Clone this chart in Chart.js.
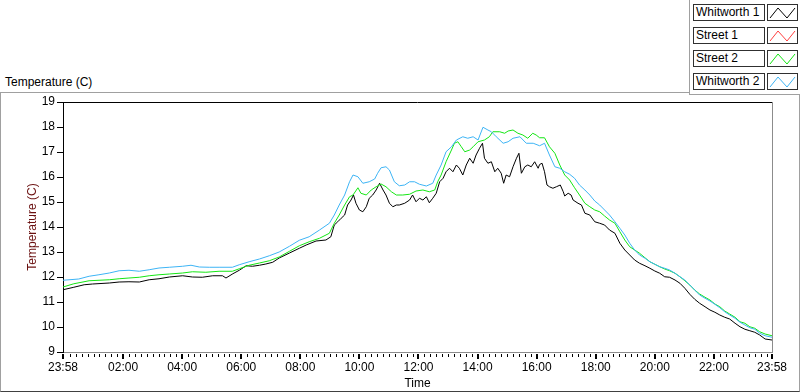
<!DOCTYPE html>
<html>
<head>
<meta charset="utf-8">
<title>Temperature</title>
<script src="https://cdn.jsdelivr.net/npm/chart.js@4.4.0/dist/chart.umd.min.js"></script>
<style>
  html, body { margin: 0; padding: 0; background: #fff; }
  #wrap { position: relative; width: 800px; height: 392px; overflow: hidden;
          font-family: "Liberation Sans", Arial, sans-serif; font-size: 12px; color: #000; }
  #frame { position: absolute; left: 0; top: 92px; width: 798px; height: 298px;
           border: 1px solid #a0a0a0; border-bottom-color: #404040; }
  #topLabel { position: absolute; left: 5px; top: 74px; line-height: 16px; }
  #legend { position: absolute; left: 689px; top: -1px; width: 110px; height: 95px;
            background: #fff; border-left: 1px solid #a0a0a0; border-bottom: 1px solid #a0a0a0; }
  .item { position: absolute; left: 3px; height: 16px; }
  .name { position: absolute; left: 0; top: 0; width: 68px; height: 15px; padding-left: 2px;
          border: 1px solid #303030; line-height: 15px; white-space: nowrap; background: #fff; }
  .icon { position: absolute; left: 74px; top: 0; width: 29px; height: 15px; border: 1px solid #303030; }
  #chart { position: absolute; left: 0; top: 0; }
</style>
</head>
<body>
<div id="wrap">
  <div id="frame"></div>
  <div id="topLabel">Temperature (C)</div>
  <div id="legend"></div>
  <canvas id="chart" width="800" height="392"></canvas>
</div>
<script>
// readings as [minutes after midnight, degrees C]
const whitworth1 = [
  [-2, 11.49], [20, 11.59], [41, 11.69], [58, 11.72], [92, 11.76], [112, 11.80], [132, 11.81],
  [153, 11.80], [173, 11.89], [193, 11.93], [214, 12.00], [241, 12.05], [261, 12.00], [281, 11.99],
  [302, 12.05], [322, 12.05], [329, 11.96], [343, 12.13], [356, 12.27], [370, 12.45], [383, 12.43],
  [397, 12.47], [410, 12.52], [424, 12.59], [437, 12.76], [458, 12.96], [478, 13.15], [492, 13.28],
  [512, 13.44], [532, 13.48], [542, 13.61], [549, 14.08], [556, 14.21], [563, 14.35], [570, 14.48],
  [576, 14.88], [583, 15.08], [588, 15.28], [593, 14.95], [600, 14.68], [607, 14.61], [614, 14.81],
  [620, 15.15], [627, 15.28], [634, 15.48], [641, 15.75], [648, 15.48], [654, 15.28], [661, 14.95],
  [668, 14.81], [675, 14.88], [681, 14.88], [692, 14.95], [702, 15.08], [708, 15.28], [715, 15.01],
  [722, 15.15], [729, 15.08], [736, 15.21], [742, 14.97], [749, 15.15], [756, 15.35], [763, 15.81],
  [770, 15.95], [776, 16.21], [783, 16.35], [790, 16.21], [797, 16.48], [803, 16.35], [810, 16.08],
  [817, 16.48], [824, 16.75], [831, 16.55], [837, 16.88], [844, 17.15], [850, 17.35], [854, 16.75],
  [861, 16.55], [868, 16.61], [875, 16.21], [881, 16.35], [888, 16.15], [893, 15.75], [898, 16.08],
  [905, 16.01], [912, 16.41], [919, 16.75], [924, 16.95], [929, 16.15], [936, 16.41], [942, 16.48],
  [949, 16.41], [956, 16.61], [963, 16.35], [966, 16.50], [971, 16.55], [976, 16.21], [981, 15.68],
  [986, 15.61], [993, 15.55], [1000, 15.61], [1008, 15.68], [1014, 15.41], [1017, 15.24], [1024, 15.35],
  [1030, 15.28], [1034, 15.08], [1044, 14.95], [1051, 14.88], [1058, 14.55], [1068, 14.48], [1078, 14.21],
  [1088, 14.15], [1098, 14.08], [1108, 13.88], [1119, 13.75], [1129, 13.35], [1139, 13.08], [1149, 12.88],
  [1159, 12.68], [1169, 12.55], [1180, 12.45], [1190, 12.35], [1200, 12.24], [1210, 12.15], [1220, 12.01],
  [1230, 11.99], [1241, 11.88], [1251, 11.75], [1261, 11.55], [1271, 11.31], [1281, 11.11], [1291, 10.95],
  [1302, 10.81], [1312, 10.68], [1322, 10.59], [1332, 10.48], [1342, 10.39], [1352, 10.32], [1363, 10.15],
  [1373, 10.01], [1383, 9.91], [1393, 9.85], [1403, 9.79], [1413, 9.68], [1424, 9.52], [1438, 9.48]
];

// nothing from this sensor shows on the plot
const street1 = [];

const street2 = [
  [-2, 11.60], [20, 11.73], [51, 11.85], [92, 11.89], [112, 11.93], [132, 11.96], [153, 11.99],
  [173, 12.05], [193, 12.09], [214, 12.12], [241, 12.16], [261, 12.21], [288, 12.19], [315, 12.23],
  [342, 12.23], [356, 12.33], [376, 12.47], [397, 12.56], [417, 12.65], [437, 12.80], [458, 13.03],
  [478, 13.25], [498, 13.41], [519, 13.55], [539, 13.75], [549, 14.15], [559, 14.48], [570, 14.88],
  [580, 15.21], [587, 15.28], [597, 15.57], [603, 15.35], [614, 15.28], [624, 15.48], [634, 15.61],
  [644, 15.72], [654, 15.61], [665, 15.41], [675, 15.28], [688, 15.28], [702, 15.31], [715, 15.44],
  [729, 15.48], [742, 15.41], [753, 15.48], [759, 15.81], [766, 16.08], [776, 16.61], [787, 17.08],
  [793, 17.35], [800, 17.41], [807, 17.21], [814, 17.01], [824, 17.08], [831, 17.21], [841, 17.41],
  [854, 17.48], [864, 17.61], [871, 17.81], [885, 17.81], [895, 17.75], [902, 17.84], [912, 17.88],
  [922, 17.75], [932, 17.68], [942, 17.55], [952, 17.75], [959, 17.68], [966, 17.57], [976, 17.57],
  [986, 17.21], [997, 16.95], [1007, 16.48], [1017, 16.08], [1027, 15.88], [1037, 15.57], [1047, 15.28],
  [1058, 14.95], [1068, 14.81], [1078, 14.68], [1088, 14.61], [1098, 14.44], [1108, 14.28], [1119, 14.15],
  [1129, 13.81], [1139, 13.48], [1149, 13.21], [1159, 13.08], [1169, 12.95], [1180, 12.77], [1190, 12.61],
  [1200, 12.51], [1210, 12.41], [1220, 12.32], [1230, 12.25], [1241, 12.15], [1251, 12.01], [1261, 11.85],
  [1271, 11.68], [1281, 11.48], [1291, 11.32], [1302, 11.19], [1312, 11.08], [1322, 10.92], [1332, 10.81],
  [1342, 10.64], [1352, 10.52], [1363, 10.39], [1373, 10.21], [1383, 10.15], [1393, 10.01], [1403, 9.95],
  [1413, 9.81], [1424, 9.72], [1438, 9.65]
];

const whitworth2 = [
  [-2, 11.87], [30, 11.92], [51, 12.03], [71, 12.09], [92, 12.16], [112, 12.25], [132, 12.27],
  [153, 12.23], [173, 12.29], [193, 12.36], [214, 12.39], [241, 12.43], [258, 12.47], [275, 12.40],
  [295, 12.39], [315, 12.39], [342, 12.39], [356, 12.49], [376, 12.61], [397, 12.72], [417, 12.85],
  [437, 13.00], [458, 13.23], [478, 13.47], [498, 13.61], [519, 13.88], [539, 14.15], [549, 14.48],
  [559, 14.88], [570, 15.28], [580, 15.81], [587, 16.08], [597, 16.01], [607, 15.75], [620, 15.81],
  [631, 15.92], [637, 16.15], [644, 16.37], [654, 16.41], [661, 16.28], [671, 15.81], [681, 15.65],
  [692, 15.68], [702, 15.81], [712, 15.81], [722, 15.71], [736, 15.64], [749, 15.75], [756, 16.08],
  [766, 16.48], [776, 17.01], [787, 17.21], [797, 17.48], [810, 17.61], [820, 17.55], [831, 17.61],
  [841, 17.48], [851, 17.99], [861, 17.88], [868, 17.81], [878, 17.61], [892, 17.35], [902, 17.41],
  [912, 17.55], [926, 17.61], [939, 17.35], [953, 17.35], [966, 17.25], [976, 17.35], [986, 16.88],
  [997, 16.41], [1007, 16.35], [1017, 16.21], [1027, 16.11], [1037, 15.95], [1047, 15.68], [1058, 15.48],
  [1068, 15.28], [1078, 15.04], [1088, 14.88], [1098, 14.68], [1108, 14.48], [1119, 14.21], [1129, 13.95],
  [1139, 13.68], [1149, 13.35], [1159, 13.08], [1169, 12.88], [1180, 12.75], [1190, 12.61], [1200, 12.51],
  [1210, 12.41], [1220, 12.35], [1230, 12.28], [1241, 12.15], [1251, 12.01], [1261, 11.88], [1271, 11.68],
  [1281, 11.48], [1291, 11.28], [1302, 11.15], [1312, 11.04], [1322, 10.91], [1332, 10.77], [1342, 10.61],
  [1352, 10.48], [1363, 10.35], [1373, 10.19], [1383, 10.08], [1393, 9.97], [1403, 9.91], [1413, 9.75],
  [1424, 9.65], [1438, 9.59]
];

const seriesNames = ['Whitworth 1', 'Street 1', 'Street 2', 'Whitworth 2'];
const seriesColors = ['#000000', '#ff4040', '#14e614', '#3db4f5'];

const tickMinutes = [-2, 120, 240, 360, 480, 600, 720, 840, 960, 1080, 1200, 1320, 1438];
const tickLabels = ['23:58', '02:00', '04:00', '06:00', '08:00', '10:00', '12:00',
                    '14:00', '16:00', '18:00', '20:00', '22:00', '23:58'];

// legend boxes (html, like the LabVIEW plot legend)
const legendEl = document.getElementById('legend');
seriesNames.forEach((name, i) => {
  const item = document.createElement('div');
  item.className = 'item';
  item.style.top = (5 + i * 23) + 'px';
  item.innerHTML = '<div class="name">' + name + '</div>' +
    '<div class="icon"><svg width="29" height="15"><polyline points="2,13 10,3 19,13 27,3" ' +
    'fill="none" stroke="' + seriesColors[i] + '" stroke-width="1"/></svg></div>';
  legendEl.appendChild(item);
});

// x ticks: labelled ones plus small ones every 12 minutes
function buildXTicks(scale) {
  const vals = tickMinutes.slice();
  for (let m = 12; m < 1438; m += 12) {
    if (m % 120 !== 0) vals.push(m);
  }
  vals.sort((a, b) => a - b);
  scale.ticks = vals.map(v => ({ value: v }));
}

const framePlugin = {
  id: 'frame',
  afterDraw(chart) {
    const { ctx, chartArea: a } = chart;
    const x = chart.scales.x;
    ctx.save();
    // top edge black, right edge gray
    ctx.strokeStyle = '#000';
    ctx.lineWidth = 1;
    ctx.beginPath();
    ctx.moveTo(a.left, a.top + 0.5);
    ctx.lineTo(a.right, a.top + 0.5);
    ctx.stroke();
    ctx.strokeStyle = '#8c8c8c';
    ctx.beginPath();
    ctx.moveTo(a.right + 0.5, a.top);
    ctx.lineTo(a.right + 0.5, a.bottom + 1);
    ctx.stroke();
    // x tick marks below the axis
    ctx.strokeStyle = '#000';
    x.ticks.forEach(t => {
      const major = tickMinutes.includes(t.value);
      const px = Math.round(x.getPixelForValue(t.value));
      ctx.lineWidth = major ? 2 : 1;
      ctx.beginPath();
      ctx.moveTo(major ? px : px + 0.5, a.bottom + 2);
      ctx.lineTo(major ? px : px + 0.5, a.bottom + (major ? 7 : 5));
      ctx.stroke();
    });
    ctx.restore();
  }
};

const datasets = [whitworth1, street1, street2, whitworth2].map((s, i) => ({
  label: seriesNames[i],
  data: s.map(p => ({ x: p[0], y: p[1] })),
  borderColor: seriesColors[i],
  backgroundColor: seriesColors[i],
  borderWidth: 1,
  pointRadius: 0,
  tension: 0,
  order: 4 - i
}));

const font = { family: '"Liberation Sans", Arial, sans-serif', size: 12 };

new Chart(document.getElementById('chart'), {
  type: 'line',
  data: { datasets: datasets },
  options: {
    responsive: false,
    animation: false,
    layout: { padding: { top: 102, right: 28, left: 0, bottom: 0 } },
    plugins: { legend: { display: false }, tooltip: { enabled: false } },
    scales: {
      x: {
        type: 'linear',
        min: -2,
        max: 1438,
        afterBuildTicks: buildXTicks,
        afterFit: s => { s.height = 40; },
        grid: { drawOnChartArea: false, drawTicks: false },
        border: { color: '#8c8c8c', width: 1 },
        ticks: {
          autoSkip: false,
          maxRotation: 0,
          padding: 8,
          color: '#000',
          font: font,
          callback: v => {
            const k = tickMinutes.indexOf(v);
            return k >= 0 ? tickLabels[k] : '';
          }
        },
        title: { display: true, text: 'Time', color: '#000', font: font, padding: { top: 0, bottom: 1 } }
      },
      y: {
        min: 9,
        max: 19,
        afterFit: s => { s.width = 63; },
        grid: { drawOnChartArea: false, drawTicks: true, tickLength: 6, tickColor: '#000' },
        border: { color: '#000', width: 1 },
        ticks: { stepSize: 1, padding: 2, color: '#000', font: font },
        title: { display: true, text: 'Temperature (C)', color: '#6a1010', font: font,
                 padding: { top: 25, bottom: 0 } }
      }
    }
  },
  plugins: [framePlugin]
});
</script>
</body>
</html>
